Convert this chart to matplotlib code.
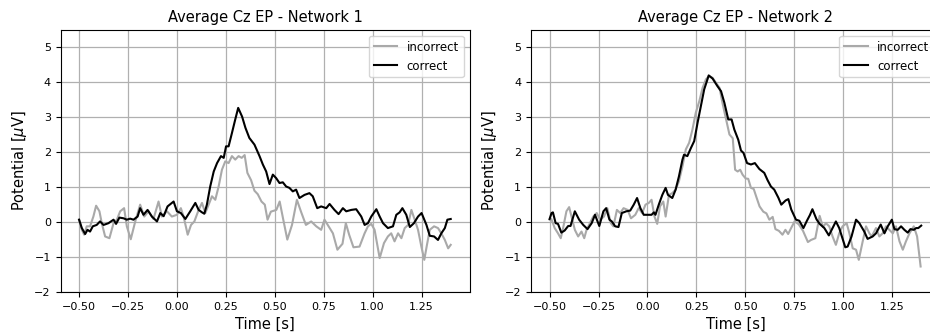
import matplotlib
matplotlib.use("Agg")
import matplotlib.pyplot as plt

# values (time in s, potential in uV)
net1_correct_t = [-0.500, -0.486, -0.469, -0.457, -0.444, -0.430, -0.410, -0.393, -0.375, -0.350,
                  -0.324, -0.311, -0.294, -0.273, -0.256, -0.239, -0.222, -0.201, -0.188, -0.171,
                  -0.150, -0.128, -0.102, -0.085, -0.068, -0.048, -0.017, 0.000, 0.020, 0.043,
                  0.068, 0.094, 0.111, 0.128, 0.140, 0.153, 0.170, 0.188, 0.205, 0.225,
                  0.239, 0.251, 0.264, 0.281, 0.298, 0.313, 0.333, 0.350, 0.370, 0.396,
                  0.422, 0.439, 0.456, 0.473, 0.490, 0.507, 0.524, 0.541, 0.558, 0.575,
                  0.592, 0.609, 0.626, 0.652, 0.677, 0.694, 0.717, 0.737, 0.763, 0.780,
                  0.805, 0.826, 0.848, 0.865, 0.891, 0.916, 0.942, 0.959, 0.976, 0.993,
                  1.019, 1.036, 1.053, 1.078, 1.104, 1.121, 1.138, 1.152, 1.172, 1.190,
                  1.211, 1.232, 1.250, 1.275, 1.292, 1.314, 1.334, 1.351, 1.369, 1.382, 1.399]
net1_correct_v = [0.07, -0.17, -0.34, -0.22, -0.27, -0.12, -0.08, 0.02, -0.08, -0.03,
                  0.07, -0.05, 0.13, 0.11, 0.07, 0.10, 0.07, 0.16, 0.40, 0.21,
                  0.35, 0.16, 0.02, 0.26, 0.17, 0.45, 0.59, 0.31, 0.26, 0.09,
                  0.31, 0.55, 0.35, 0.28, 0.24, 0.50, 1.02, 1.45, 1.69, 1.89,
                  1.84, 2.17, 2.17, 2.55, 2.94, 3.27, 3.02, 2.70, 2.41, 2.22,
                  1.89, 1.65, 1.45, 1.09, 1.36, 1.26, 1.12, 1.14, 1.02, 0.98,
                  0.88, 0.93, 0.69, 0.78, 0.83, 0.74, 0.40, 0.45, 0.40, 0.52,
                  0.35, 0.23, 0.40, 0.31, 0.35, 0.37, 0.16, -0.08, -0.03, 0.16,
                  0.37, 0.16, -0.03, -0.17, -0.12, 0.21, 0.28, 0.40, 0.21, -0.14,
                  -0.03, 0.16, 0.26, -0.08, -0.39, -0.41, -0.51, -0.32, -0.17, 0.07, 0.09]

net1_incorrect_t = [-0.500, -0.486, -0.474, -0.461, -0.444, -0.427, -0.413, -0.396, -0.384, -0.367,
                    -0.345, -0.324, -0.307, -0.290, -0.270, -0.256, -0.236, -0.213, -0.188, -0.167,
                    -0.145, -0.120, -0.094, -0.077, -0.051, -0.026, 0.000, 0.020, 0.034, 0.055,
                    0.072, 0.089, 0.111, 0.128, 0.145, 0.162, 0.179, 0.196, 0.213, 0.230,
                    0.247, 0.264, 0.281, 0.298, 0.315, 0.331, 0.346, 0.360, 0.379, 0.396,
                    0.413, 0.432, 0.449, 0.463, 0.480, 0.508, 0.525, 0.542, 0.564, 0.588,
                    0.613, 0.634, 0.659, 0.686, 0.712, 0.737, 0.754, 0.775, 0.797, 0.820,
                    0.846, 0.863, 0.880, 0.902, 0.933, 0.959, 0.976, 0.993, 1.010, 1.036,
                    1.058, 1.078, 1.095, 1.112, 1.130, 1.147, 1.164, 1.181, 1.198, 1.215,
                    1.232, 1.249, 1.264, 1.276, 1.292, 1.314, 1.334, 1.351, 1.369, 1.386, 1.399]
net1_incorrect_v = [0.07, -0.22, -0.36, -0.12, -0.12, 0.16, 0.47, 0.31, -0.03, -0.41,
                    -0.46, -0.03, 0.07, 0.31, 0.40, -0.12, -0.49, 0.02, 0.50, 0.16,
                    0.31, 0.09, 0.59, 0.16, 0.31, 0.16, 0.21, 0.40, 0.16, -0.36,
                    -0.08, 0.02, 0.35, 0.55, 0.26, 0.50, 0.74, 0.64, 1.02, 1.50,
                    1.74, 1.69, 1.89, 1.79, 1.89, 1.84, 1.92, 1.41, 1.20, 0.90,
                    0.80, 0.59, 0.50, 0.07, 0.30, 0.35, 0.59, 0.11, -0.50, -0.08,
                    0.64, 0.30, -0.08, 0.02, -0.12, -0.22, 0.07, -0.12, -0.32, -0.79,
                    -0.62, -0.03, -0.36, -0.72, -0.70, -0.32, -0.12, -0.05, -0.22, -1.03,
                    -0.60, -0.41, -0.32, -0.55, -0.32, -0.46, -0.17, -0.08, 0.35, 0.07,
                    -0.22, -0.70, -1.08, -0.70, -0.22, -0.12, -0.17, -0.32, -0.51, -0.75, -0.65]

net2_correct_t = [-0.500, -0.490, -0.483, -0.469, -0.457, -0.440, -0.423, -0.405, -0.393, -0.371,
                  -0.349, -0.328, -0.306, -0.285, -0.268, -0.246, -0.225, -0.211, -0.194, -0.182,
                  -0.165, -0.148, -0.131, -0.108, -0.088, -0.070, -0.053, -0.036, -0.019, -0.002,
                  0.021, 0.033, 0.041, 0.058, 0.076, 0.093, 0.105, 0.127, 0.144, 0.161,
                  0.179, 0.187, 0.204, 0.222, 0.239, 0.256, 0.273, 0.290, 0.304, 0.313,
                  0.333, 0.358, 0.376, 0.393, 0.413, 0.430, 0.444, 0.464, 0.478, 0.491,
                  0.509, 0.529, 0.549, 0.572, 0.597, 0.614, 0.631, 0.648, 0.669, 0.684,
                  0.706, 0.720, 0.735, 0.759, 0.776, 0.797, 0.815, 0.830, 0.843, 0.864,
                  0.880, 0.904, 0.927, 0.946, 0.963, 0.980, 1.011, 1.023, 1.043, 1.066,
                  1.083, 1.108, 1.125, 1.151, 1.168, 1.192, 1.211, 1.228, 1.249, 1.262,
                  1.279, 1.296, 1.313, 1.330, 1.344, 1.361, 1.373, 1.384, 1.399]
net2_correct_v = [0.09, 0.26, 0.28, -0.03, -0.05, -0.30, -0.24, -0.11, -0.11, 0.31,
                  0.07, -0.08, -0.20, -0.03, 0.21, -0.11, 0.31, 0.40, 0.07, 0.02,
                  -0.12, -0.14, 0.26, 0.31, 0.33, 0.50, 0.69, 0.40, 0.21, 0.21,
                  0.21, 0.28, 0.21, 0.50, 0.78, 0.98, 0.78, 0.69, 0.93, 1.31,
                  1.79, 1.93, 1.89, 2.12, 2.32, 2.84, 3.32, 3.80, 4.04, 4.20,
                  4.11, 3.89, 3.75, 3.42, 2.94, 2.94, 2.65, 2.36, 2.05, 1.98,
                  1.69, 1.65, 1.69, 1.52, 1.41, 1.20, 1.02, 0.93, 0.70, 0.50,
                  0.62, 0.66, 0.36, 0.07, 0.04, -0.17, 0.04, 0.20, 0.37, 0.08,
                  -0.05, -0.17, -0.38, -0.17, 0.02, -0.17, -0.72, -0.70, -0.41, 0.07,
                  -0.03, -0.27, -0.48, -0.41, -0.32, -0.07, -0.32, -0.12, 0.07, -0.20,
                  -0.22, -0.12, -0.22, -0.30, -0.20, -0.22, -0.17, -0.17, -0.10]

net2_incorrect_t = [-0.500, -0.491, -0.474, -0.457, -0.443, -0.431, -0.414, -0.400, -0.388, -0.371,
                    -0.354, -0.337, -0.323, -0.311, -0.294, -0.277, -0.259, -0.242, -0.222, -0.205,
                    -0.187, -0.174, -0.156, -0.139, -0.122, -0.101, -0.084, -0.062, -0.045, -0.027,
                    -0.010, 0.007, 0.021, 0.036, 0.050, 0.064, 0.081, 0.093, 0.110, 0.127,
                    0.144, 0.161, 0.179, 0.196, 0.213, 0.230, 0.247, 0.265, 0.282, 0.299,
                    0.316, 0.333, 0.350, 0.368, 0.385, 0.402, 0.419, 0.436, 0.448, 0.461,
                    0.474, 0.486, 0.502, 0.515, 0.529, 0.543, 0.556, 0.573, 0.592, 0.608,
                    0.623, 0.640, 0.654, 0.672, 0.690, 0.705, 0.719, 0.736, 0.752, 0.773,
                    0.795, 0.820, 0.836, 0.858, 0.880, 0.897, 0.912, 0.929, 0.946, 0.963,
                    0.980, 0.997, 1.018, 1.032, 1.049, 1.066, 1.080, 1.100, 1.117, 1.134,
                    1.146, 1.168, 1.185, 1.202, 1.219, 1.236, 1.254, 1.270, 1.288, 1.305,
                    1.321, 1.339, 1.361, 1.378, 1.396]
net2_incorrect_v = [0.07, 0.09, -0.17, -0.32, -0.46, -0.17, 0.31, 0.43, 0.16, -0.22,
                    -0.41, -0.27, -0.46, -0.22, -0.03, 0.16, 0.26, 0.07, 0.16, 0.40,
                    -0.03, -0.12, 0.35, 0.26, 0.40, 0.35, 0.11, 0.21, 0.40, 0.26,
                    0.50, 0.55, 0.64, 0.16, -0.05, 0.45, 0.59, 0.16, 0.78, 0.83,
                    0.93, 1.17, 1.60, 2.08, 2.27, 2.65, 3.13, 3.46, 3.85, 4.09,
                    4.18, 4.13, 3.99, 3.85, 3.37, 2.94, 2.51, 2.40, 1.50, 1.45,
                    1.50, 1.36, 1.25, 1.24, 0.98, 0.95, 0.73, 0.45, 0.30, 0.25,
                    0.07, 0.15, -0.20, -0.25, -0.36, -0.22, -0.34, -0.15, 0.02, -0.06,
                    -0.25, -0.57, -0.51, -0.46, 0.18, -0.14, -0.03, -0.12, -0.41, -0.65,
                    -0.32, -0.12, -0.03, -0.32, -0.75, -0.79, -1.08, -0.55, -0.12, -0.32,
                    -0.41, -0.17, -0.41, -0.32, -0.12, -0.22, -0.32, -0.12, -0.55, -0.79,
                    -0.55, -0.32, -0.12, -0.41, -1.27]

titles = ["Average Cz EP - Network 1", "Average Cz EP - Network 2"]
xticks = [-0.5, -0.25, 0.0, 0.25, 0.5, 0.75, 1.0, 1.25]

W, H = 930, 336
fig = plt.figure(figsize=(W / 100, H / 100), dpi=100)
ax1 = fig.add_axes([60.5 / W, 44 / H, 409 / W, 262 / H])
ax2 = fig.add_axes([531 / W, 44 / H, 409 / W, 262 / H])

panels = [
    (ax1, net1_incorrect_t, net1_incorrect_v, net1_correct_t, net1_correct_v, titles[0]),
    (ax2, net2_incorrect_t, net2_incorrect_v, net2_correct_t, net2_correct_v, titles[1]),
]
for ax, ti, vi, tc, vc, title in panels:
    ax.plot(ti, vi, color="#a9a9a9", linewidth=1.5, label="incorrect")
    ax.plot(tc, vc, color="black", linewidth=1.5, label="correct")
    ax.set_xlim(-0.595, 1.495)
    ax.set_ylim(-2, 5.5)
    ax.set_xticks(xticks)
    ax.set_yticks(range(-2, 6))
    ax.tick_params(labelsize=8)
    ax.grid(True, color="#b0b0b0", linewidth=0.9)
    ax.set_title(title, fontsize=10.5)
    ax.set_xlabel("Time [s]", fontsize=10.5)
    ax.set_ylabel(r"Potential [$\mu$V]", fontsize=10.5)
    ax.legend(loc="upper right", fontsize=8.5)

fig.savefig("out.png", dpi=100)
